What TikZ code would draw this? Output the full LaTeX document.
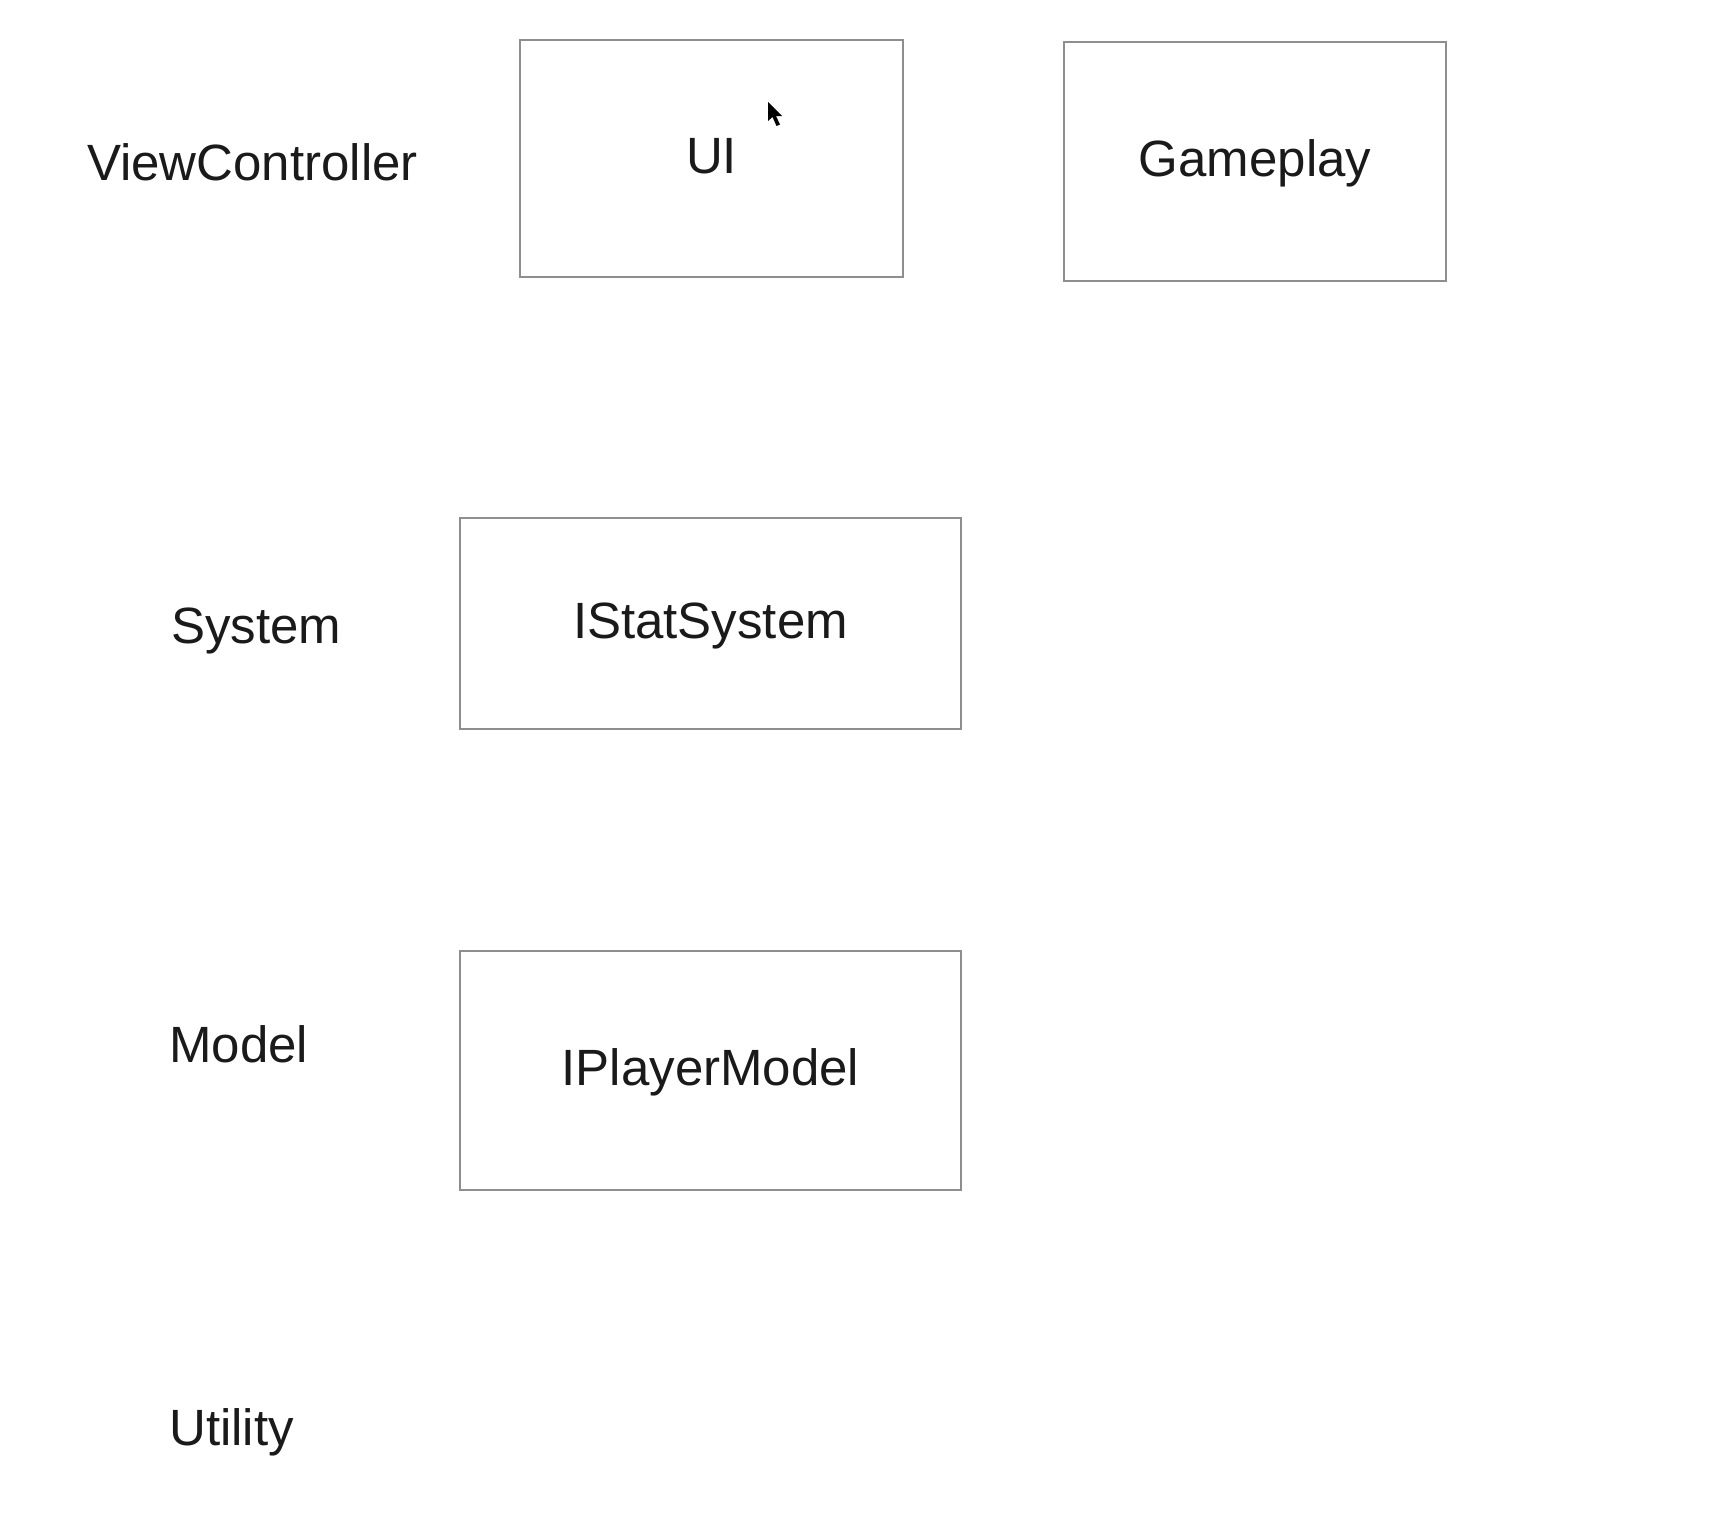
\documentclass[tikz,border=0pt]{standalone}
\usepackage{fontspec}
\setmainfont{Liberation Sans}
\begin{document}
\begin{tikzpicture}[x=1pt,y=-1pt,
  boxnode/.style={draw=boxgray,line width=2.5pt,rectangle,inner sep=0pt,
    text=textcol,font=\fontsize{51}{61}\selectfont,text height=30pt,text depth=0pt},
  lbl/.style={anchor=base west,inner sep=0pt,text=textcol,font=\fontsize{51}{61}\selectfont}]
\definecolor{boxgray}{HTML}{8E8E8E}
\definecolor{textcol}{HTML}{1A1A1A}
\useasboundingbox[fill=white] (0,0) rectangle (1732,1534);
% row labels
\node[lbl] (lvc) at (87,180) {ViewController};
\node[lbl] (lsys) at (171,643) {System};
\node[lbl] (lmod) at (169,1062) {Model};
\node[lbl] (lutil) at (169,1445) {Utility};
% boxes
\node[boxnode,minimum width=383pt,minimum height=237pt] (ui) at (711.5,158.5) {UI};
\node[boxnode,minimum width=382pt,minimum height=239pt] (gp) at (1255,161.5) {Gameplay};
\node[boxnode,minimum width=501pt,minimum height=211pt] (stat) at (710.5,623.5) {IStatSystem};
\node[boxnode,minimum width=501pt,minimum height=239pt] (pm) at (710.5,1070.5) {IPlayerModel};
% mouse cursor
\fill[black] (768,102) -- (768,121) -- (772.5,117) -- (776.5,126) -- (780,124.5) -- (776,116) -- (782,116) -- cycle;
\end{tikzpicture}
\end{document}
